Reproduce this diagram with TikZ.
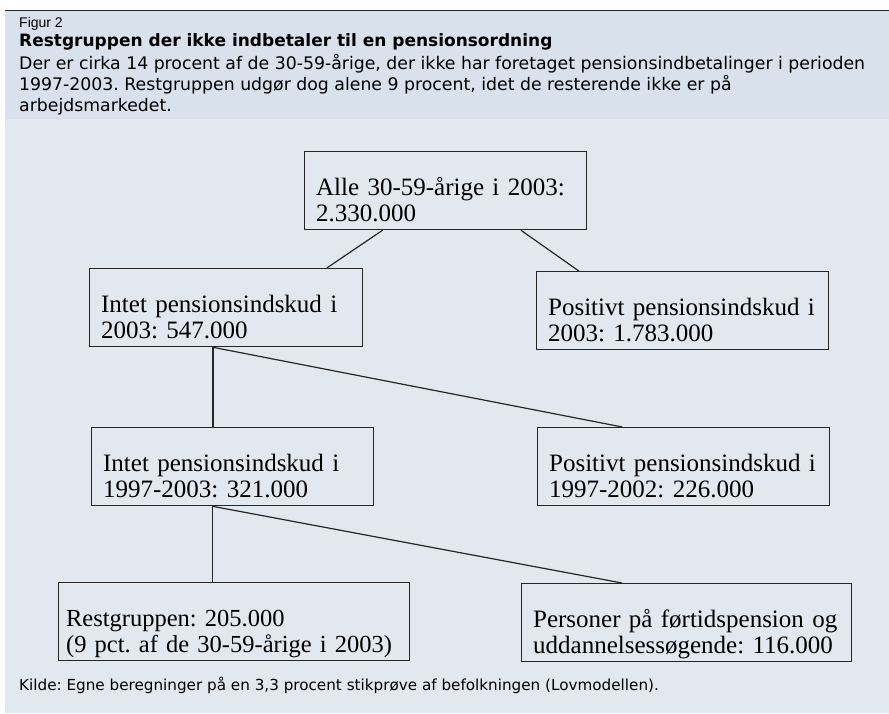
\documentclass[tikz,border=0pt]{standalone}
\usepackage{fontspec}
\setmainfont{Liberation Serif}
\newfontfamily\headfont{DejaVu Sans}
\newfontfamily\labelfont{Liberation Sans}
\usetikzlibrary{calc}
\definecolor{headbg}{HTML}{D8E1EC}
\definecolor{bodybg}{HTML}{E2E8EF}
\definecolor{boxline}{HTML}{262626}
\frenchspacing

\begin{document}
\begin{tikzpicture}[x=1pt, y=-1pt,
    pbox/.style={draw=boxline, line width=1.3pt, inner xsep=11.5pt, inner ysep=0pt,
        align=left, anchor=north west, font=\fontsize{25}{26}\selectfont},
    link/.style={draw=boxline, line width=1.2pt}]
    % --- Background ---
    \useasboundingbox (0,0) rectangle (889,713);
    \fill[headbg] (5,11) rectangle (889,119);
    \fill[bodybg] (5,119) rectangle (889,713);
    \draw[boxline, line width=1.5pt] (5,10.5) -- (889,10.5);

    % --- Caption ---
    \node[anchor=base west, inner sep=0pt, font=\labelfont\fontsize{14}{16}\selectfont] (fignum) at (19,27) {Figur 2};
    \node[anchor=base west, inner sep=0pt, font=\headfont\bfseries\fontsize{17}{19}\selectfont] (title) at (19,46) {Restgruppen der ikke indbetaler til en pensionsordning};
    \node[anchor=north west, inner sep=0pt, align=left, font=\headfont\fontsize{17.3}{21}\selectfont] (intro) at (19,54) {
        \rule{0pt}{14pt}Der er cirka 14 procent af de 30-59-årige, der ikke har foretaget pensionsindbetalinger i perioden\\
        1997-2003. Restgruppen udgør dog alene 9 procent, idet de resterende ikke er på\\
        arbejdsmarkedet.
    };

    % --- Nodes ---

    % 1. All (top)
    \node[pbox, text width=259pt] (all) at (304,151) {\rule{0pt}{44pt}Alle 30-59-årige i 2003:\\2.330.000\rule[-8pt]{0pt}{8pt}};

    % 2. Second row
    \node[pbox, text width=250pt] (intet1) at (89,268) {\rule{0pt}{44pt}Intet pensionsindskud i\\2003: 547.000\rule[-8pt]{0pt}{8pt}};
    \node[pbox, text width=269pt] (pos1) at (536,271) {\rule{0pt}{44pt}Positivt pensionsindskud i\\2003: 1.783.000\rule[-8pt]{0pt}{8pt}};

    % 3. Third row
    \node[pbox, text width=259pt] (intet2) at (91,427) {\rule{0pt}{44pt}Intet pensionsindskud i\\1997-2003: 321.000\rule[-8pt]{0pt}{8pt}};
    \node[pbox, text width=269pt] (pos2) at (537,427) {\rule{0pt}{44pt}Positivt pensionsindskud i\\1997-2002: 226.000\rule[-8pt]{0pt}{8pt}};

    % 4. Bottom row
    \node[pbox, text width=336pt, inner xsep=7.5pt, font=\fontsize{24.5}{26}\selectfont] (rest) at (58,582) {\rule{0pt}{44pt}Restgruppen: 205.000\\(9 pct. af de 30-59-årige i 2003)\rule[-8pt]{0pt}{8pt}};
    \node[pbox, text width=307pt] (pers) at (521,583) {\rule{0pt}{44pt}Personer på førtidspension og\\uddannelsessøgende: 116.000\rule[-8pt]{0pt}{8pt}};

    % --- Source ---
    \node[anchor=base west, inner sep=0pt, font=\headfont\fontsize{15.2}{17}\selectfont] (source) at (19,690) {Kilde: Egne beregninger på en 3,3 procent stikprøve af befolkningen (Lovmodellen).};

    % --- Lines ---
    \coordinate (i1s) at ($(intet1.south west)!0.452!(intet1.south east)$);
    \coordinate (i2s) at ($(intet2.south west)!0.429!(intet2.south east)$);

    \draw[link] ($(all.south west)!0.277!(all.south east)$) -- ($(intet1.north west)!0.867!(intet1.north east)$);
    \draw[link] ($(all.south west)!0.766!(all.south east)$) -- ($(pos1.north west)!0.146!(pos1.north east)$);

    \draw[link] (i1s) -- (i1s |- intet2.north);
    \draw[link] (i1s) -- ($(pos2.north west)!0.291!(pos2.north east)$);

    \draw[link] (i2s) -- (i2s |- rest.north);
    \draw[link] (i2s) -- ($(pers.north west)!0.305!(pers.north east)$);

\end{tikzpicture}
\end{document}
